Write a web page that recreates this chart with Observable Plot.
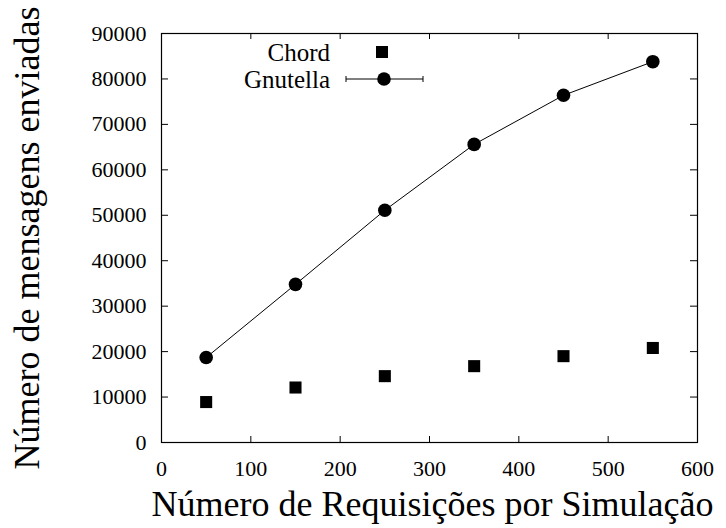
<!DOCTYPE html>
<html>
<head>
<meta charset="utf-8">
<script src="https://cdn.jsdelivr.net/npm/d3@7"></script>
<script src="https://cdn.jsdelivr.net/npm/@observablehq/plot@0.6"></script>
<style>
  html, body { margin: 0; padding: 0; background: #fff; }
  #wrap { position: relative; width: 726px; height: 528px; }
  #legend { position: absolute; left: 0; top: 0; }
</style>
</head>
<body>
<div id="wrap"></div>
<script>
// Data
const requisicoes = [50, 150, 250, 350, 450, 550];
const chord = [8900, 12100, 14600, 16800, 19000, 20800];
const gnutella = [18700, 34800, 51100, 65600, 76400, 83800];
const xTicks = [0, 100, 200, 300, 400, 500, 600];
const yTicks = [0, 10000, 20000, 30000, 40000, 50000, 60000, 70000, 80000, 90000];
const seriesNames = ["Chord", "Gnutella"];

const chordData = requisicoes.map((x, i) => ({x, y: chord[i]}));
const gnutellaData = requisicoes.map((x, i) => ({x, y: gnutella[i]}));

const W = 726, H = 528;
const mL = 161, mR = 29, mT = 33, mB = 86;
const pw = W - mL - mR, ph = H - mT - mB;
const font = "'Liberation Serif', 'DejaVu Serif', serif";

const chart = Plot.plot({
  width: W, height: H,
  marginLeft: mL, marginRight: mR, marginTop: mT, marginBottom: mB,
  style: {fontFamily: font, fontSize: "22px", color: "#000", background: "#fff"},
  x: {domain: [0, 600]},
  y: {domain: [0, 90000]},
  marks: [
    Plot.frame({stroke: "#000", strokeWidth: 1.2}),
    // inward ticks
    Plot.tickY(yTicks, {y: d => d, stroke: "#000", insetRight: pw - 7}),
    Plot.tickY(yTicks, {y: d => d, stroke: "#000", insetLeft: pw - 7}),
    Plot.tickX(xTicks, {x: d => d, stroke: "#000", insetTop: ph - 6}),
    Plot.tickX(xTicks, {x: d => d, stroke: "#000", insetBottom: ph - 6}),
    Plot.axisY({ticks: yTicks, tickSize: 0, tickPadding: 15, tickFormat: d => String(d), label: null, fontSize: 22}),
    Plot.axisX({ticks: xTicks, tickSize: 0, tickPadding: 18, tickFormat: d => String(d), label: null, fontSize: 22}),
    Plot.line(gnutellaData, {x: "x", y: "y", stroke: "#000", strokeWidth: 1}),
    Plot.dot(gnutellaData, {x: "x", y: "y", r: 6.8, fill: "#000", stroke: "none"}),
    Plot.dot(chordData, {x: "x", y: "y", symbol: "square", r: 6.8, fill: "#000", stroke: "none"}),
    Plot.text(["Número de Requisições por Simulação"], {frameAnchor: "bottom", dy: 62, dx: 3, textAnchor: "middle", lineAnchor: "middle", fontSize: 36}),
    Plot.text(["Número de mensagens enviadas"], {frameAnchor: "left", dx: -134, rotate: -90, textAnchor: "middle", lineAnchor: "middle", fontSize: 36})
  ]
});
document.getElementById("wrap").appendChild(chart);

// Legend overlay
const leg = d3.select("#wrap").append("svg")
  .attr("id", "legend").attr("width", W).attr("height", 110)
  .style("font-family", font).style("font-size", "25px");
leg.append("text").attr("x", 330).attr("y", 52).attr("dy", "0.35em").attr("text-anchor", "end").text(seriesNames[0]);
leg.append("rect").attr("x", 376).attr("y", 46).attr("width", 12).attr("height", 12).attr("fill", "#000");
leg.append("text").attr("x", 330).attr("y", 79).attr("dy", "0.35em").attr("text-anchor", "end").text(seriesNames[1]);
leg.append("line").attr("x1", 346).attr("x2", 423).attr("y1", 79).attr("y2", 79).attr("stroke", "#000");
leg.append("line").attr("x1", 346).attr("x2", 346).attr("y1", 76).attr("y2", 82).attr("stroke", "#000");
leg.append("line").attr("x1", 423).attr("x2", 423).attr("y1", 76).attr("y2", 82).attr("stroke", "#000");
leg.append("circle").attr("cx", 384).attr("cy", 79).attr("r", 6.8).attr("fill", "#000");
</script>
</body>
</html>
